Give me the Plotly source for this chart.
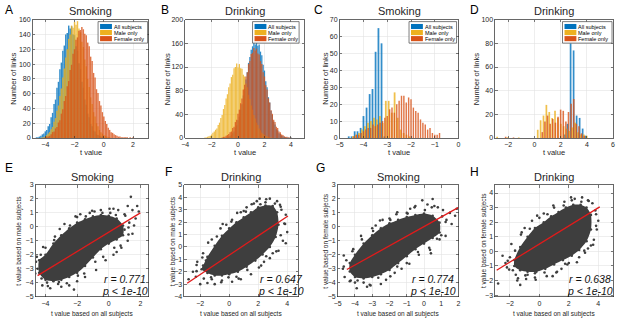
import numpy as np
import plotly.graph_objects as go

W, H = 617, 325
BLUE, YEL, ORG = '#0072BD', '#EDB120', '#D95319'
DOT = '#3e3e3e'
FONT = 'Liberation Sans, Arial, sans-serif'
TXT = '#262626'

series_names = ['All subjects', 'Male only', 'Female only']

# ---------------- Panel A (Smoking, all links) ----------------
A_bin_w = 0.1
A_blue_start = -4.6
A_blue = [1, 1, 2, 3, 5, 6, 9, 11, 16, 19, 28, 34, 46, 52, 68, 76, 93, 102, 118, 125, 140, 142, 152,
          148,
          151, 140, 139, 124, 118, 101, 93, 76, 68, 52, 45, 33, 28, 19, 16, 10, 9, 5, 4, 3, 2, 1, 1]
A_yel_start = -4.2
A_yel = [1, 1, 2, 4, 6, 8, 12, 15, 22, 27, 37, 44, 57, 67, 82, 94, 109, 120, 134, 140, 152, 149, 157,
         153,
         158, 148, 143, 130, 123, 106, 97, 80, 69, 55, 46, 35, 29, 20, 16, 11, 8, 6, 4, 3, 2, 1, 1]
A_org_start = -4.0
A_org = [1, 2, 2, 3, 5, 8, 9, 13, 15, 21, 24, 33, 39, 50, 57, 70, 77, 92, 99, 114, 120, 133, 136, 145, 146,
         150,
         147, 141, 139, 129, 124, 110, 104, 88, 82, 66, 61, 50, 44, 35, 29, 23, 19, 14, 11, 8, 7, 5, 4, 3,
         2, 2, 1, 1, 1, 1, 1, 0, 1, 0, 1, 0, 0]

# ---------------- Panel B (Drinking, all links) ----------------
B_bin_w = 0.1
B_blue_start = -0.9
B_blue = [1, 1, 2, 3, 5, 8, 11, 17, 21, 30, 36, 48, 57, 72, 83, 99, 111, 127, 137, 149, 155, 161, 158,
          165,
          156, 158, 146, 140, 124, 114, 96, 86, 69, 60, 46, 39, 28, 23, 15, 13, 8, 7, 4, 3, 2, 1, 1, 1, 0, 1]
B_org_start = -1.2
B_org = [1, 2, 2, 4, 5, 7, 10, 11, 17, 19, 27, 31, 41, 48, 59, 67, 82, 90, 104, 111, 125, 130, 142, 144, 152,
         148,
         151, 143, 141, 130, 125, 111, 104, 89, 82, 67, 60, 47, 41, 31, 27, 19, 17, 11, 10, 6, 5, 3, 2, 2, 1, 1, 1]
B_yel_start = -2.5
B_yel = [1, 1, 2, 3, 4, 6, 9, 11, 14, 16, 22, 26, 34, 39, 49, 56, 67, 74, 86, 92, 103, 107, 118, 120, 126,
         119,
         125, 118, 117, 107, 104, 92, 86, 73, 66, 55, 48, 39, 33, 26, 22, 16, 13, 9, 7, 5, 4, 3, 2, 1, 1]

# ---------------- Panel C (Smoking, selected links) ----------------
C_blue_x = [-4.62, -4.5, -4.37, -4.25, -4.12, -4.0, -3.87, -3.74, -3.62, -3.49, -3.37, -3.24, -3.12]
C_blue = [1, 1, 4, 4, 6, 13, 18, 26, 29, 51, 65, 56, 1]
C_yel_x = [-4.44, -4.31, -4.19, -4.06, -3.94, -3.81, -3.69, -3.56, -3.44, -3.31, -3.19, -3.06, -2.94,
           -2.81, -2.69, -2.56, -2.44, -2.31, -2.19, -2.06]
C_yel = [1, 2, 3, 5, 7, 9, 10, 12, 11, 13, 9, 22, 22, 15, 27, 12, 5, 3, 2, 1]
C_org_x = [-4.4, -4.3, -4.2, -4.1, -4.0, -3.9, -3.8, -3.7, -3.6, -3.5, -3.4, -3.3, -3.2, -3.1, -3.0,
           -2.9, -2.8, -2.7, -2.6, -2.5, -2.4, -2.3, -2.2, -2.1, -2.0, -1.9, -1.8, -1.7, -1.6, -1.5,
           -1.4, -1.3, -1.2, -1.1, -1.0, -0.9, -0.8]
C_org = [1, 2, 2, 3, 4, 5, 6, 6, 8, 7, 8, 9, 10, 12, 13, 17, 18, 15, 20, 22, 25, 25, 21, 24, 23, 18,
         16, 15, 11, 9, 8, 5, 6, 3, 2, 2, 3]

# ---------------- Panel D (Drinking, selected links) ----------------
D_blue_x = [2.3, 2.53, 2.76, 2.99, 3.22, 3.45, 3.68, 3.91]
D_blue = [3, 12, 80, 74, 19, 17, 8, 2]
D_yel_x = [-2.85, -2.05, -1.2, 0.25, 0.47, 0.69, 0.91, 1.13, 1.35, 1.57, 1.79, 2.01, 2.23, 2.45,
           2.67, 2.89, 3.11, 3.33, 3.55, 3.77, 3.99]
D_yel = [1, 0.6, 0.5, 7, 15, 19, 28, 22, 17, 23, 17, 12, 10, 8, 6, 9, 13, 5, 3, 3, 2]
D_org_x = [-2.2, -1.6, 0.6, 0.8, 1.0, 1.2, 1.4, 1.6, 1.8, 2.0, 2.2, 2.4, 2.6, 2.8, 3.0, 3.2, 3.4, 3.6, 3.8]
D_org = [1, 0.5, 5, 14, 19, 12, 16, 13, 18, 24, 23, 14, 22, 29, 33, 12, 10, 4, 2]

# ---------------- Scatter panels: dense core, edge points, sparse points, fit line ----------------
E_core_x = [-4.4, -4.0, -3.5, -3.0, -2.5, -2.0, -1.5, -1.0, -0.5, 0.0, 0.5, 0.9,
            0.9, 0.5, 0.0, -0.5, -1.0, -1.5, -2.0, -2.5, -3.0, -3.5, -4.0, -4.4]
E_core_y = [-2.4, -2.0, -1.2, -0.6, -0.1, 0.3, 0.55, 0.75, 0.85, 0.8, 0.6, 0.1,
            -0.6, -0.9, -1.2, -1.6, -2.2, -2.8, -3.3, -3.6, -3.8, -3.9, -3.8, -3.3]
E_edge_x = [-4.55, -4.15, -3.45, -3.1, -2.45, -2.1, -1.45, -1.05, -0.4, 0.05, 0.45, 1.05, 1.25,
            1.25, 0.75, 0.35, -0.35, -0.85, -1.55, -1.95, -2.65, -3.15, -3.85, -4.25, -4.65]
E_edge_y = [-2.15, -1.45, -0.95, -0.15, 0.1, 0.75, 0.75, 1.15, 1.0, 1.3, 0.85, 0.8, -0.05,
            -0.55, -1.35, -1.5, -2.15, -2.5, -3.35, -3.5, -4.05, -3.95, -4.25, -3.7, -3.35]
E_pts_x = [1.4, 0.3, 1.2, 1.5, 1.8, 1.9, 1.7, 1.3, 1.0, 0.6, -0.5, -1.2, -2.0, -2.8, -3.4, -4.0, -4.3,
           -4.5, -4.2, -3.7, -3.0, -2.5, -2.0, -1.5, -0.8, -0.2, 0.3, 0.8, 1.2, 1.5, 1.0, -4.6, -3.9,
           -2.2, 1.6, 0.1, -0.9, -3.2, -1.8, 0.5]
E_pts_y = [2.15, 1.3, 1.5, 1.2, 1.5, 1.1, 0.6, 0.3, 0.9, 1.2, 1.2, 1.0, 0.7, 0.2, -0.7, -1.5, -2.0,
           -3.0, -4.2, -4.4, -4.3, -4.2, -3.9, -3.6, -3.1, -2.4, -2.0, -1.5, -1.0, -0.5, -0.2, -2.5, -4.0,
           -4.5, 0.1, 1.0, 1.1, -4.1, 0.9, -1.8]
E_fit_x = [-4.5, 2.0]
E_fit_y = [-3.5, 1.0]
E_r, E_p = 'r = 0.771', 'p < 1e-10'

F_core_x = [-1.8, -1.5, -1.0, -0.5, 0.0, 0.5, 1.0, 1.5, 2.0, 2.5, 3.0, 3.3,
            3.4, 3.2, 2.8, 2.3, 1.8, 1.2, 0.6, 0.0, -0.5, -1.0, -1.5, -1.9]
F_core_y = [-1.5, -0.8, 0.1, 0.9, 1.5, 2.0, 2.4, 2.8, 3.2, 3.35, 3.3, 2.8,
            1.8, 0.8, 0.0, -0.6, -1.1, -1.6, -2.0, -2.2, -2.3, -2.3, -2.1, -1.8]
F_edge_x = [-2.25, -1.85, -1.45, -0.85, -0.45, 0.15, 0.55, 1.15, 1.55, 2.15, 2.55, 3.15, 3.55,
            3.85, 3.55, 3.25, 2.55, 2.05, 1.25, 0.65, -0.05, -0.55, -1.25, -1.75, -2.25]
F_edge_y = [-1.45, -0.85, 0.35, 0.85, 1.85, 2.05, 2.75, 2.85, 3.45, 3.45, 3.85, 3.5, 3.25,
            1.85, 0.95, -0.35, -0.75, -1.65, -1.85, -2.55, -2.45, -2.85, -2.45, -2.55, -1.95]
F_pts_x = [2.1, 2.8, 3.3, 1.7, 3.6, 3.9, 3.8, 4.0, 3.7, 3.4, 2.8, 2.2, 1.5, 0.8, 0.2, -0.5, -1.2, -2.0,
           -1.0, -2.5, -2.2, -1.8, -1.2, -0.6, 0.2, 0.8, 1.2, -2.3, -1.5, 3.0, 3.9, 2.5, 1.0, -0.2, 3.5,
           2.4, -2.8, 0.5, 1.9, -1.6]
F_pts_y = [3.9, 3.9, 3.7, 3.5, 3.0, 2.6, 1.9, 1.2, 0.5, -0.3, -0.9, -1.5, -2.2, -2.6, -2.8, -2.7, -2.6,
           -3.0, -3.0, -2.0, -1.2, -0.5, 0.6, 1.5, 2.2, 2.8, 3.2, -2.4, -2.9, -0.5, 0.3, 3.6, 2.9, 1.8,
           3.4, -1.2, -2.6, -2.4, 3.7, -1.1]
F_fit_x = [-2.9, 4.05]
F_fit_y = [-2.92, 2.5]
F_r, F_p = 'r = 0.647', 'p < 1e-10'

G_core_x = [-4.3, -4.0, -3.5, -3.0, -2.5, -2.0, -1.5, -1.0, -0.5, 0.0, 0.5, 0.9,
            0.9, 0.5, 0.0, -0.5, -1.0, -1.5, -2.0, -2.5, -3.0, -3.5, -4.0, -4.3]
G_core_y = [-2.6, -2.0, -1.2, -0.6, -0.1, 0.25, 0.5, 0.7, 0.85, 0.95, 0.8, 0.3,
            -0.4, -0.8, -1.2, -1.6, -2.1, -2.6, -3.1, -3.4, -3.6, -3.7, -3.6, -3.2]
G_edge_x = [-4.65, -4.15, -3.65, -2.95, -2.55, -1.95, -1.55, -0.95, -0.55, 0.05, 0.45, 1.05, 1.25,
            1.25, 0.75, 0.35, -0.35, -0.85, -1.55, -1.95, -2.65, -3.15, -3.85, -4.25, -4.65]
G_edge_y = [-2.05, -1.75, -0.65, -0.3, 0.45, 0.5, 1.05, 0.95, 1.4, 1.2, 1.4, 0.75, 0.35,
            -0.65, -0.85, -1.65, -1.8, -2.65, -2.85, -3.55, -3.65, -4.15, -3.85, -3.85, -2.85]
G_pts_x = [-0.1, 0.5, 0.2, 0.6, 1.1, 1.5, 1.8, 1.3, 0.9, 0.3, -0.3, -1.0, -1.7, -2.5, -3.1, -3.5, -4.0,
           -4.3, -4.6, -4.5, -4.1, -3.6, -3.0, -2.4, -1.6, -0.8, -1.0, -2.0, -3.9, 1.9, 1.6, 0.4, -4.7,
           -2.8, 1.0, -0.5, -1.3, 0.8, -3.3, -2.2]
G_pts_y = [1.9, 2.0, 1.6, 1.5, 1.2, 1.0, 0.8, 0.5, -0.9, -1.5, -2.0, -2.6, -3.3, -4.1, -4.2, -4.0, -4.0,
           -3.9, -3.6, -2.4, -1.6, -0.9, -0.1, 0.5, 0.9, 1.3, 1.0, 0.6, -4.4, 1.3, 0.2, -1.9, -3.0, 0.1,
           -0.6, 1.5, -3.0, 1.4, -4.3, -3.8]
G_fit_x = [-4.47, 2.0]
G_fit_y = [-3.06, 1.40]
G_r, G_p = 'r = 0.774', 'p < 1e-10'

H_core_x = [-1.7, -1.3, -0.8, -0.3, 0.3, 0.8, 1.3, 1.8, 2.3, 2.8, 3.2, 3.5,
            3.5, 3.2, 2.7, 2.2, 1.6, 1.0, 0.4, -0.2, -0.8, -1.3, -1.7]
H_core_y = [-0.6, 0.3, 1.0, 1.6, 2.0, 2.4, 2.7, 3.0, 3.2, 3.2, 3.0, 2.5,
            1.5, 0.7, 0.1, -0.3, -0.6, -0.9, -1.2, -1.4, -1.4, -1.3, -1.0]
H_edge_x = [-2.15, -1.65, -1.25, -0.65, -0.15, 0.55, 0.95, 1.65, 2.15, 2.85, 3.35, 3.85,
            3.85, 3.65, 3.05, 2.55, 1.75, 1.15, 0.35, -0.25, -0.95, -1.45, -2.05]
H_edge_y = [-0.65, 0.05, 1.15, 1.55, 2.45, 2.55, 3.15, 3.15, 3.7, 3.4, 3.45, 2.55,
            1.75, 0.45, 0.05, -0.75, -0.85, -1.45, -1.45, -1.95, -1.65, -1.85, -1.25]
H_pts_x = [1.7, 2.9, 3.3, 3.6, 3.8, 4.0, 3.9, 3.7, 3.3, 2.7, 2.0, 1.2, 0.5, -0.3, -0.9, -1.3, -1.5, -2.8,
           -2.2, -2.0, -1.9, -1.2, -0.5, 0.3, 1.0, -1.6, -0.8, -2.3, 0.9, 2.4, 3.1, 1.9, -1.0, -2.5, 0.0,
           2.2, 3.5, -0.3, 1.5, -1.8]
H_pts_y = [3.4, 3.7, 3.5, 3.3, 2.8, 2.1, 1.5, 0.8, 0.2, -0.4, -0.8, -1.4, -1.7, -1.8, -1.9, -2.3, -2.0,
           -2.2, -1.1, -0.4, 0.5, 1.3, 2.1, 2.6, 3.0, -1.6, -1.6, -0.8, -1.7, 3.6, -0.1, -0.9, 1.6, -0.3,
           2.3, 3.5, 0.4, -1.5, -1.2, -1.3]
H_fit_x = [-2.9, 4.1]
H_fit_y = [-1.3, 3.05]
H_r, H_p = 'r = 0.638', 'p < 1e-10'

# ---------------- layout geometry (pixels) ----------------
TOP_T, TOP_B = 16, 137
BOT_T, BOT_B = 185, 299
panels = [
    # key, left, right, top, bottom, xrange, yrange, xdtick, ydtick
    ('A', 29, 146, TOP_T, TOP_B, [-4.86, 3.06], [0, 160], 2, 20),
    ('B', 183, 303, TOP_T, TOP_B, [-4, 5], [0, 200], 2, 40),
    ('C', 339, 459, TOP_T, TOP_B, [-5, 0], [0, 70], 1, 10),
    ('D', 496, 615, TOP_T, TOP_B, [-3, 6], [0, 100], 2, 20),
    ('E', 32, 146, BOT_T, BOT_B, [-4.62, 2.52], [-5, 3], 2, 1),
    ('F', 182, 297, BOT_T, BOT_B, [-3.1, 4.75], [-4, 5], 2, 1),
    ('G', 337, 459, BOT_T, BOT_B, [-5, 2], [-5, 3], 1, 1),
    ('H', 496, 615, BOT_T, BOT_B, [-3, 5], [-3.1, 4.55], 2, 1),
]

fig = go.Figure()
layout = dict(width=W, height=H, margin=dict(l=0, r=0, t=0, b=0), autosize=False,
              paper_bgcolor='white', plot_bgcolor='white', barmode='overlay', showlegend=False,
              font=dict(family=FONT, color=TXT, size=7))
axref = {}
for i, (key, l, r, t, b, xr, yr, dx, dy) in enumerate(panels, start=1):
    sx = '' if i == 1 else str(i)
    axref[key] = ('x' + sx, 'y' + sx)
    common = dict(showline=True, mirror='ticks', linecolor=TXT, linewidth=0.7, ticks='inside',
                  ticklen=2.5, tickwidth=0.6, tickcolor=TXT, showgrid=True, gridcolor='#e3e3e3',
                  gridwidth=0.6, zeroline=False, tickfont=dict(size=7, color=TXT, family=FONT))
    layout['xaxis' + sx] = dict(domain=[l / W, r / W], range=xr, dtick=dx, tick0=0,
                                anchor='y' + sx, **common)
    layout['yaxis' + sx] = dict(domain=[1 - b / H, 1 - t / H], range=yr, dtick=dy, tick0=0,
                                anchor='x' + sx, **common)
fig.update_layout(**layout)


def bars(key, x, y, w, color, name, op=0.8):
    xa, ya = axref[key]
    fig.add_trace(go.Bar(x=x, y=y, width=w, marker=dict(color=color, line=dict(width=0)),
                         opacity=op, name=name, xaxis=xa, yaxis=ya))


def centers(start, w, n):
    return start + w * np.arange(n)


bars('A', centers(A_blue_start, A_bin_w, len(A_blue)), A_blue, A_bin_w, BLUE, series_names[0])
bars('A', centers(A_yel_start, A_bin_w, len(A_yel)), A_yel, A_bin_w, YEL, series_names[1])
bars('A', centers(A_org_start, A_bin_w, len(A_org)), A_org, A_bin_w, ORG, series_names[2])
bars('B', centers(B_blue_start, B_bin_w, len(B_blue)), B_blue, B_bin_w, BLUE, series_names[0])
bars('B', centers(B_yel_start, B_bin_w, len(B_yel)), B_yel, B_bin_w, YEL, series_names[1])
bars('B', centers(B_org_start, B_bin_w, len(B_org)), B_org, B_bin_w, ORG, series_names[2])
bars('C', C_blue_x, C_blue, 0.075, BLUE, series_names[0])
bars('C', C_yel_x, C_yel, 0.075, YEL, series_names[1])
bars('C', C_org_x, C_org, 0.06, ORG, series_names[2])
bars('D', D_blue_x, D_blue, 0.13, BLUE, series_names[0])
bars('D', D_yel_x, D_yel, 0.13, YEL, series_names[1])
bars('D', D_org_x, D_org, 0.12, ORG, series_names[2])

for key, ex, ey, cx, cy, px_, py_, fx, fy in [
    ('E', E_edge_x, E_edge_y, E_core_x, E_core_y, E_pts_x, E_pts_y, E_fit_x, E_fit_y),
    ('F', F_edge_x, F_edge_y, F_core_x, F_core_y, F_pts_x, F_pts_y, F_fit_x, F_fit_y),
    ('G', G_edge_x, G_edge_y, G_core_x, G_core_y, G_pts_x, G_pts_y, G_fit_x, G_fit_y),
    ('H', H_edge_x, H_edge_y, H_core_x, H_core_y, H_pts_x, H_pts_y, H_fit_x, H_fit_y),
]:
    xa, ya = axref[key]
    fig.add_trace(go.Scatter(x=cx + cx[:1], y=cy + cy[:1], mode='lines', fill='toself',
                             fillcolor=DOT, line=dict(width=0, shape='spline', smoothing=0.8),
                             xaxis=xa, yaxis=ya, hoverinfo='skip'))
    fig.add_trace(go.Scatter(x=cx + ex + px_, y=cy + ey + py_, mode='markers',
                             marker=dict(color=DOT, size=2.6, line=dict(width=0)),
                             xaxis=xa, yaxis=ya))
    fig.add_trace(go.Scatter(x=fx, y=fy, mode='lines', line=dict(color='#e01b1b', width=1.3),
                             xaxis=xa, yaxis=ya))

ann = []


def text(s, x, y, size, xanchor='center', yanchor='middle', angle=0, italic=False, color='#000'):
    if italic:
        s = '<i>' + s + '</i>'
    ann.append(dict(text=s, x=x / W, y=1 - y / H, xref='paper', yref='paper', showarrow=False,
                    xanchor=xanchor, yanchor=yanchor, textangle=angle, borderpad=0,
                    font=dict(size=size, color=color, family=FONT)))


# panel letters
for s, x, y in [('A', 5, 6), ('B', 163, 6), ('C', 318, 6), ('D', 475, 6),
                ('E', 5, 168), ('F', 166, 172), ('G', 320, 168), ('H', 475, 172)]:
    text(s, x, y, 12)

titles = {'A': 'Smoking', 'B': 'Drinking', 'C': 'Smoking', 'D': 'Drinking',
          'E': 'Smoking', 'F': 'Drinking', 'G': 'Smoking', 'H': 'Drinking'}
ylabels = {'E': 't value based on male subjects', 'F': 't value based on male subjects',
           'G': 't value based on female subjects', 'H': 't value based on female subjects'}
ylab_x = {'A': 10, 'B': 165, 'C': 325, 'D': 478, 'E': 15, 'F': 170, 'G': 325, 'H': 485}
for key, l, r, t, b, *_ in panels:
    mid = (l + r) / 2
    text(titles[key], mid, 7 if key in 'ABCD' else 177, 11, color=TXT)
    if key in 'ABCD':
        text('t value', mid, 152, 7.5, color=TXT)
        text('Number of links', ylab_x[key], (t + b) / 2, 7.5, angle=-90, color=TXT)
    else:
        text('t value based on all subjects', mid, 317, 6.5, color=TXT)
        text(ylabels[key], ylab_x[key], (t + b) / 2, 6.5, angle=-90, color=TXT)

# statistics text in scatter panels
for key, r_s, p_s, lx in [('E', E_r, E_p, 98), ('F', F_r, F_p, 255),
                          ('G', G_r, G_p, 409), ('H', H_r, H_p, 568)]:
    text(r_s, lx + 2, 281, 10.5, xanchor='left', italic=True, color='#111')
    text(p_s, lx, 293, 10.5, xanchor='left', italic=True, color='#111')

# legends (box + colour patches + labels), one per histogram panel
shapes = []
for key, bl, br in [('A', 95, 145), ('B', 251, 298), ('C', 409, 457), ('D', 564, 614)]:
    bt, bb = 18, 40
    shapes.append(dict(type='rect', xref='paper', yref='paper', x0=bl / W, x1=br / W,
                       y0=1 - bb / H, y1=1 - bt / H, line=dict(color=TXT, width=0.6),
                       fillcolor='white', layer='above'))
    for j, (nm, col) in enumerate(zip(series_names, [BLUE, YEL, ORG])):
        cy = 23 + 6.2 * j
        shapes.append(dict(type='rect', xref='paper', yref='paper', x0=(bl + 2) / W, x1=(bl + 14) / W,
                           y0=1 - (cy + 2.6) / H, y1=1 - (cy - 2.6) / H,
                           line=dict(width=0), fillcolor=col, layer='above'))
        text(nm, bl + 15, cy, 5.5, xanchor='left', color='#000')

fig.update_layout(annotations=ann, shapes=shapes)
fig.write_html('out.html', config={'displayModeBar': False, 'staticPlot': True},
               post_script="document.body.style.margin='0px';")
